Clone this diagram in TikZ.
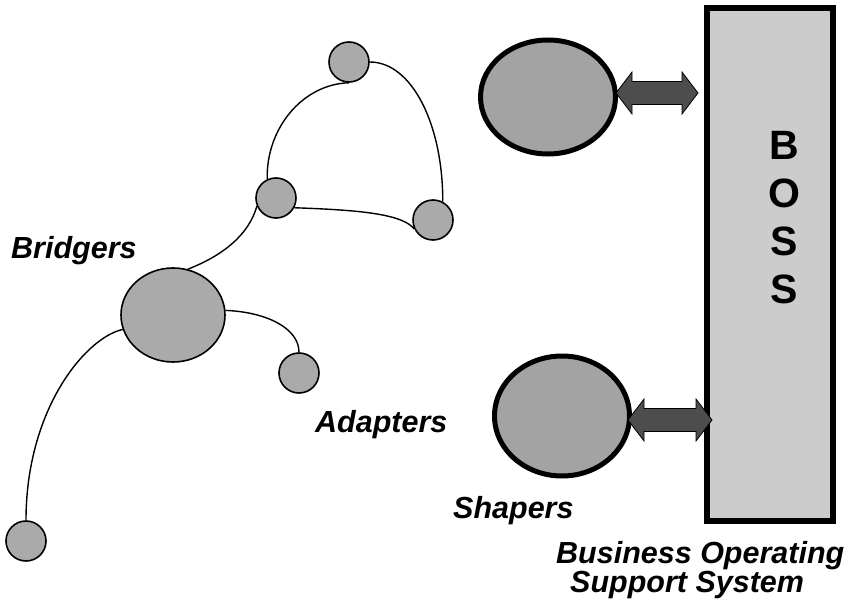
\documentclass[tikz,border=0pt]{standalone}
\usepackage{fontspec}
\setmainfont{Liberation Sans}
\usetikzlibrary{shapes.geometric,calc}

\definecolor{bossfill}{HTML}{CCCCCC}
\definecolor{bigfill}{HTML}{A3A3A3}
\definecolor{nodefill}{HTML}{AAAAAA}
\definecolor{arrowfill}{HTML}{4D4D4D}

\tikzset{
  bignode/.style={ellipse, draw=black, line width=5bp, fill=bigfill, inner sep=0pt},
  netnode/.style={circle, draw=black, line width=1.6bp, fill=nodefill,
                  minimum size=40bp, inner sep=0pt},
  hubnode/.style={ellipse, draw=black, line width=1.6bp, fill=nodefill,
                  minimum width=104bp, minimum height=94bp, inner sep=0pt},
  link/.style={line width=1.4bp, draw=black},
  label/.style={font=\bfseries\itshape\fontsize{30.5bp}{30.5bp}\selectfont,
                anchor=base west, inner sep=0pt},
  fatarrow/.style={draw=black, line width=0.8bp, fill=arrowfill, line join=miter}
}

% double-headed block arrow between two points on one horizontal line
\newcommand\blockarrow[2]{%
  \path[fatarrow] let \p1=(#1), \p2=(#2) in
    (\x1,\y1) -- (\x1+16bp,\y1+21bp) -- (\x1+16bp,\y1+11.5bp)
    -- (\x2-16bp,\y1+11.5bp) -- (\x2-16bp,\y1+21bp) -- (\x2,\y1)
    -- (\x2-16bp,\y1-21bp) -- (\x2-16bp,\y1-11.5bp)
    -- (\x1+16bp,\y1-11.5bp) -- (\x1+16bp,\y1-21bp) -- cycle;}

\begin{document}
\begin{tikzpicture}[x=1bp,y=-1bp]
  \useasboundingbox (0,0) rectangle (854,607);

  % the BOSS column
  \node[draw=black, line width=6bp, fill=bossfill, inner sep=0pt,
        minimum width=126bp, minimum height=513bp] (boss) at (770,264.5) {};
  \node[anchor=north, inner sep=0pt, align=center,
        font=\bfseries\fontsize{41bp}{48bp}\selectfont] (bosstext) at (784,131)
        {B\\O\\S\\S};

  % the two large partners
  \node[bignode, minimum width=135bp, minimum height=114bp] (upper) at (548,97) {};
  \node[bignode, minimum width=135bp, minimum height=120bp] (lower) at (562,416) {};

  \coordinate (ua) at (616,93);
  \coordinate (ub) at (698,93);
  \coordinate (la) at (628,420);
  \coordinate (lb) at (712,420);
  \blockarrow{ua}{ub}
  \blockarrow{la}{lb}

  % the network of bridgers and adapters
  \node[netnode] (top)   at (349,62) {};
  \node[netnode] (mid)   at (276,198) {};
  \node[netnode] (right) at (433,220) {};
  \node[hubnode] (hub)   at (173,315) {};
  \node[netnode] (small) at (299,373) {};
  \node[netnode] (far)   at (26,541) {};

  \draw[link] (top.south) .. controls (303,84) and (266,128) .. (mid.115);
  \draw[link] (top.east) .. controls (412,62) and (443,125) .. (right.62);
  \draw[link] (mid.-28) .. controls (360,210) and (402,214) .. (right.205);
  \draw[link] (mid.203) .. controls (249,235) and (222,256) .. (hub.72);
  \draw[link] (hub.5) .. controls (266,312) and (299,328) .. (small.north);
  \draw[link] (hub.196) .. controls (85,338) and (26,410) .. (far.north);

  % labels
  \node[label] (bridgers) at (11,258) {Bridgers};
  \node[label] (adapters) at (315,432) {Adapters};
  \node[label] (shapers)  at (453,518) {Shapers};
  \node[label] (bos1) at (556,563) {Business Operating};
  \node[label] (bos2) at (570,592) {Support System};
\end{tikzpicture}
\end{document}
